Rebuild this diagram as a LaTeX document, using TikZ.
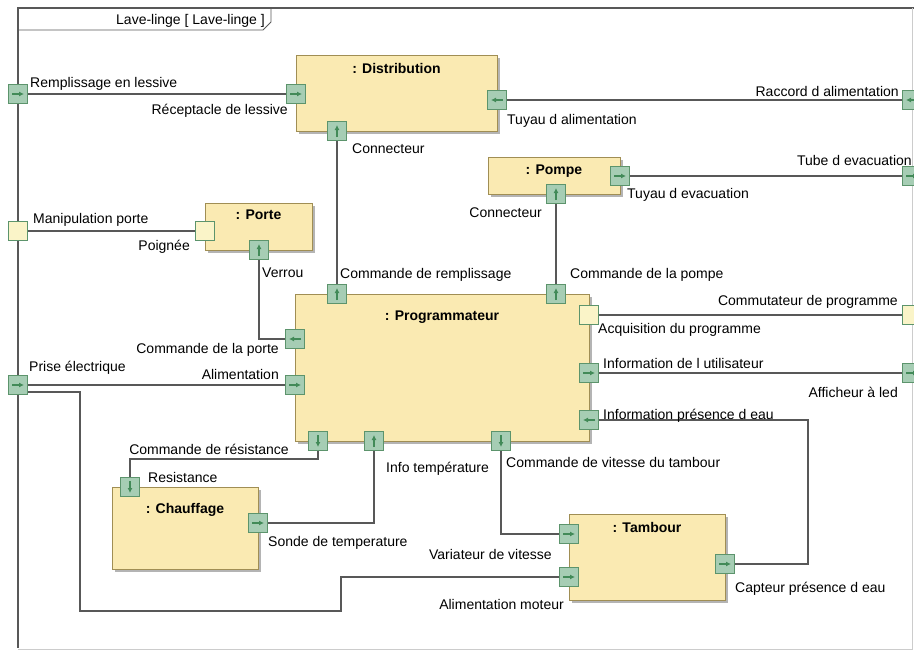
\documentclass[tikz,border=0pt]{standalone}
\usepackage{fontspec}
\setmainfont{Liberation Sans}
\usetikzlibrary{arrows.meta,shadows,positioning}
\definecolor{blockfill}{RGB}{250,234,178}
\definecolor{blockline}{RGB}{160,142,84}
\definecolor{shadowgray}{RGB}{180,180,180}
\definecolor{portfill}{RGB}{166,205,180}
\definecolor{portline}{RGB}{92,148,108}
\definecolor{portarrow}{RGB}{66,138,88}
\definecolor{plainfill}{RGB}{250,244,200}
\definecolor{wiregray}{RGB}{88,88,88}
\newcommand{\fnt}{\fontsize{14}{16}\selectfont}
\tikzset{
	block/.style={draw=blockline,fill=blockfill,line width=1pt,inner sep=0pt,anchor=north west,
		drop shadow={shadow xshift=2.5pt,shadow yshift=-2.5pt,fill=shadowgray,opacity=1}},
	title/.style={font=\fnt\bfseries,anchor=base,inner sep=0pt},
	lbl/.style={font=\fnt,inner sep=0pt},
	port/.style={draw=portline,fill=portfill,line width=1pt,minimum size=19pt,inner sep=0pt},
	plainport/.style={port,fill=plainfill},
	flow/.style={draw=portarrow,line width=1.1pt,-{Latex[length=5pt,width=5pt]}},
	portR/.style={port,path picture={\draw[flow] ([xshift=-6pt]path picture bounding box.center) -- ([xshift=6pt]path picture bounding box.center);}},
	portL/.style={port,path picture={\draw[flow] ([xshift=6pt]path picture bounding box.center) -- ([xshift=-6pt]path picture bounding box.center);}},
	portU/.style={port,path picture={\draw[flow] ([yshift=-6pt]path picture bounding box.center) -- ([yshift=6pt]path picture bounding box.center);}},
	portD/.style={port,path picture={\draw[flow] ([yshift=6pt]path picture bounding box.center) -- ([yshift=-6pt]path picture bounding box.center);}},
	wire/.style={draw=wiregray,line width=1.3pt}
}
\begin{document}
\begin{tikzpicture}[x=1pt,y=-1pt]
	\useasboundingbox (0,0) rectangle (914,651);
	\clip (0,0) rectangle (914,651);
	%frame of the block
	\draw [wiregray,line width=1.3pt] (914,8) -- (18,8) -- (18,648);
	\draw [gray!40,line width=0.8pt] (18,649) -- (912,649) -- (912,8);
	\draw [wiregray,line width=0.8pt] (18,30) -- (263,30) -- (271,22) -- (271,8);
	\node [lbl,anchor=base west] (tab) at (116,24) {Lave-linge [ Lave-linge ]};
	%parts
	\node [block,minimum width=201pt,minimum height=76pt] (distribution) at (296,55) {};
	\node [block,minimum width=132pt,minimum height=37pt] (pompe) at (488,157) {};
	\node [block,minimum width=107pt,minimum height=47pt] (porte) at (205,203) {};
	\node [block,minimum width=294pt,minimum height=147pt] (programmateur) at (295,294) {};
	\node [block,minimum width=146pt,minimum height=82pt] (chauffage) at (112,487) {};
	\node [block,minimum width=156pt,minimum height=86pt] (tambour) at (569,514) {};
	\node [title] (tDistribution) at (396.5,73) {: Distribution};
	\node [title] (tPompe) at (554,174) {: Pompe};
	\node [title] (tPorte) at (258.5,219) {: Porte};
	\node [title] (tProgrammateur) at (442,320) {: Programmateur};
	\node [title] (tChauffage) at (185,513) {: Chauffage};
	\node [title] (tTambour) at (647,532) {: Tambour};
	%ports on the frame
	\node [portR] (pRempl) at (18,94) {};
	\node [plainport] (pManip) at (18,231) {};
	\node [portR] (pPrise) at (18,385) {};
	\node [portL] (pRaccord) at (912,100) {};
	\node [portR] (pTube) at (912,176) {};
	\node [plainport] (pCommut) at (912,315) {};
	\node [portR] (pAffich) at (912,373) {};
	%ports of the parts
	\node [portR] (dRecep) at (296,94) {};
	\node [portL] (dTuyau) at (497,100) {};
	\node [portU] (dConn) at (337,131) {};
	\node [portR] (pmTuyau) at (620,176) {};
	\node [portU] (pmConn) at (556,194) {};
	\node [plainport] (poPoign) at (205,231) {};
	\node [portU] (poVerrou) at (259,250) {};
	\node [portU] (prRempl) at (337,294) {};
	\node [portU] (prPompe) at (556,294) {};
	\node [plainport] (prAcq) at (589,315) {};
	\node [portL] (prPorte) at (295,339) {};
	\node [portR] (prAlim) at (295,385) {};
	\node [portR] (prUtil) at (589,373) {};
	\node [portL] (prEau) at (589,420) {};
	\node [portD] (prResist) at (318,441) {};
	\node [portU] (prTemp) at (374,441) {};
	\node [portD] (prVitesse) at (501,441) {};
	\node [portD] (cResist) at (130,487) {};
	\node [portR] (cSonde) at (258,523) {};
	\node [portR] (tVar) at (569,534) {};
	\node [portR] (tAlim) at (569,577) {};
	\node [portR] (tCapt) at (725,564) {};
	%connectors
	\draw [wire] (pRempl) -- (dRecep);
	\draw [wire] (dTuyau) -- (pRaccord);
	\draw [wire] (dConn) -- (prRempl);
	\draw [wire] (pmTuyau) -- (pTube);
	\draw [wire] (pmConn) -- (prPompe);
	\draw [wire] (pManip) -- (poPoign);
	\draw [wire] (poVerrou) |- (prPorte);
	\draw [wire] (pPrise) -- (prAlim);
	\draw [wire] ([yshift=-7pt]pPrise.east) -| (80,611) -| (341,577) -- (tAlim);
	\draw [wire] (prAcq) -- (pCommut);
	\draw [wire] (prUtil) -- (pAffich);
	\draw [wire] (prEau) -| (808,564) -- (tCapt);
	\draw [wire] (prResist) |- (130,459) -- (cResist);
	\draw [wire] (prTemp) |- (cSonde);
	\draw [wire] (prVitesse) |- (tVar);
	%port names
	\foreach \x/\y/\t [count=\i] in {30/87/Remplissage en lessive, 507/124/Tuyau d alimentation,
			352/153/Connecteur, 627/198/Tuyau d evacuation, 33/223/Manipulation porte, 262/277/Verrou,
			340/278/Commande de remplissage, 570/278/Commande de la pompe, 598/333/Acquisition du programme,
			29/371/Prise électrique, 603/368/Information de l utilisateur, 603/419/Information présence d eau,
			386/472/Info température, 506/467/Commande de vitesse du tambour, 148/482/Resistance,
			268/546/Sonde de temperature, 735/592/Capteur présence d eau}
		\node [lbl,anchor=base west] (w\i) at (\x,\y) {\t};
	\foreach \x/\y/\t [count=\i] in {288/114/Réceptacle de lessive, 899/96/Raccord d alimentation,
			912/165/Tube d evacuation, 542/217/Connecteur, 190/250/Poignée, 898/305/Commutateur de programme,
			279/353/Commande de la porte, 279/379/Alimentation, 898/397/Afficheur à led,
			289/454/Commande de résistance, 552/559/Variateur de vitesse, 564/609/Alimentation moteur}
		\node [lbl,anchor=base east] (e\i) at (\x,\y) {\t};
\end{tikzpicture}
\end{document}
